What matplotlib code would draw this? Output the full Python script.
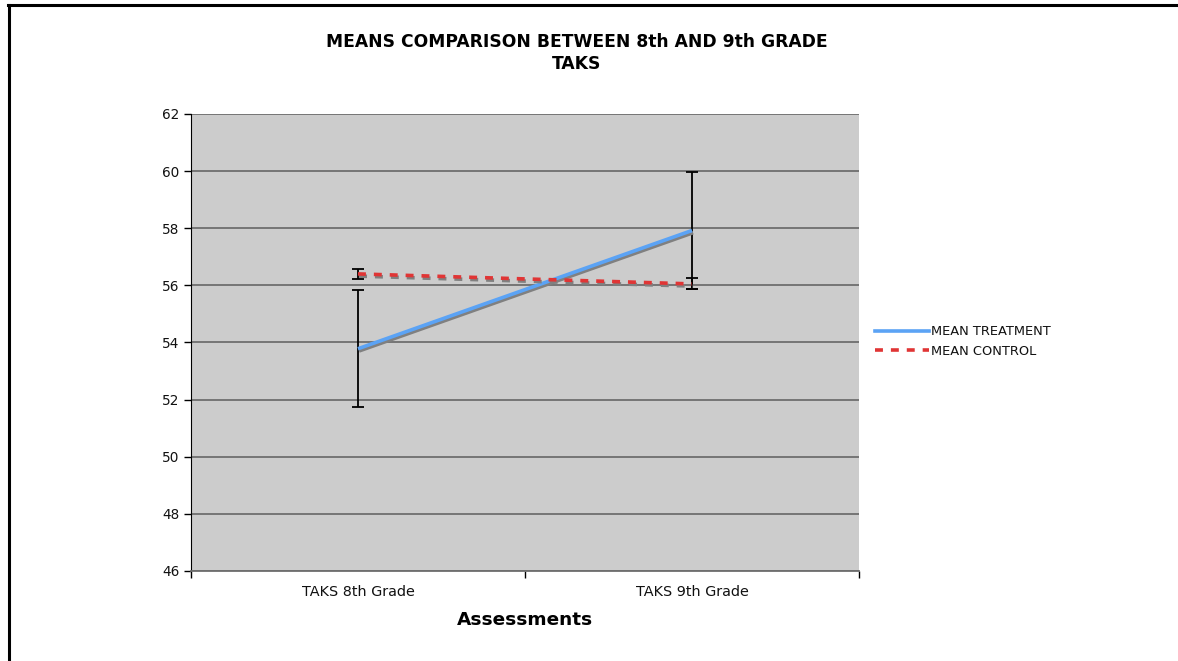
import matplotlib
matplotlib.use("Agg")
import matplotlib.pyplot as plt
import matplotlib.patheffects as pe
from matplotlib.lines import Line2D

categories = ["TAKS 8th Grade", "TAKS 9th Grade"]
mean_treatment = [53.78, 57.92]
err_treatment = [2.05, 2.05]
mean_control = [56.40, 56.05]
err_control = [0.17, 0.19]
yticks = [46, 48, 50, 52, 54, 56, 58, 60, 62]

fig = plt.figure(figsize=(11.78, 6.61), dpi=100)
ax = fig.add_axes([0.1621, 0.1362, 0.5671, 0.6914])
ax.set_facecolor("#cccccc")

x = [0.5, 1.5]
shadow = [pe.SimpleLineShadow(offset=(0.8, -1.6), shadow_color="#808080", alpha=1.0), pe.Normal()]

ax.errorbar(x, mean_treatment, yerr=err_treatment, fmt="none", ecolor="black",
            elinewidth=1.3, capsize=4, capthick=1.3, zorder=4)
ax.errorbar(x, mean_control, yerr=err_control, fmt="none", ecolor="black",
            elinewidth=1.3, capsize=4, capthick=1.3, zorder=4)
ax.plot(x, mean_treatment, color="#5ba3f5", lw=2.6, label="MEAN TREATMENT",
        path_effects=shadow, zorder=5, solid_capstyle="butt")
ax.plot(x, mean_control, color="#e03535", lw=2.6, ls=(0, (2.2, 2.2)), label="MEAN CONTROL",
        path_effects=shadow, zorder=5, dash_capstyle="butt")

ax.set_xlim(0, 2)
ax.set_ylim(46, 62)
ax.set_yticks(yticks)
ax.set_yticklabels([str(v) for v in yticks], fontsize=9.8, color="#111111")
ax.set_xticks([0, 1, 2])
ax.set_xticklabels([])
ax.set_xticks(x, minor=True)
ax.set_xticklabels(categories, minor=True, fontsize=10.4, color="#111111")
ax.tick_params(axis="x", which="minor", length=0, pad=10)
ax.tick_params(axis="both", which="major", direction="out", length=5, width=1, color="black")
ax.yaxis.grid(True, color="#6e6e6e", lw=1.3)
ax.set_axisbelow(True)
for s in ["top", "right"]:
    ax.spines[s].set_visible(False)
ax.spines["left"].set_color("black")
ax.spines["bottom"].set_color("#6e6e6e")
ax.spines["bottom"].set_linewidth(1.3)

ax.set_xlabel("Assessments", fontsize=13.3, fontweight="bold", labelpad=9)

fig.text(0.4895, 0.92, "MEANS COMPARISON BETWEEN 8th AND 9th GRADE\nTAKS", ha="center", va="center",
         fontsize=12.3, fontweight="bold", linespacing=1.32)

handles = [Line2D([], [], color="#5ba3f5", lw=2.6),
           Line2D([], [], color="#e03535", lw=2.6, ls=(0, (2.2, 2.2)))]
fig.legend(handles, ["MEAN TREATMENT", "MEAN CONTROL"], loc="center left",
           bbox_to_anchor=(0.7375, 0.483), frameon=False, fontsize=9.4,
           handlelength=4.1, handletextpad=0.15, labelspacing=0.5, borderpad=0,
           labelcolor="#111111")

fig.add_artist(Line2D([0.0077, 0.0077], [0, 0.993], transform=fig.transFigure, color="black", lw=2.2))
fig.add_artist(Line2D([0.0068, 1.0], [0.993, 0.993], transform=fig.transFigure, color="black", lw=2.2))

fig.savefig("out.png", dpi=100)
